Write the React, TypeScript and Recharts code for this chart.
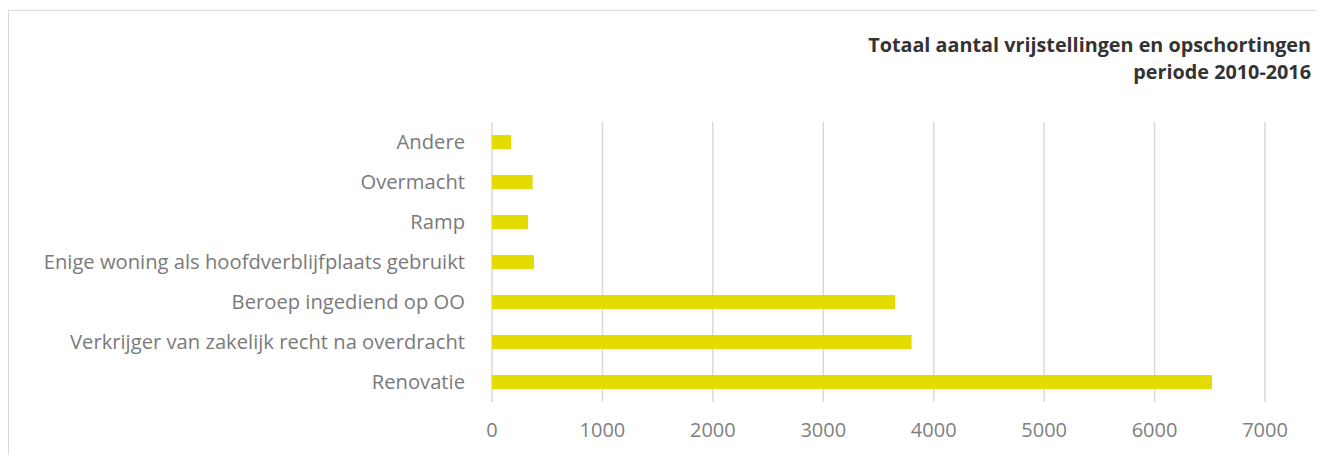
import React from 'react';
import { BarChart, Bar, XAxis, YAxis, CartesianGrid } from 'recharts';

const categories = [
  'Andere',
  'Overmacht',
  'Ramp',
  'Enige woning als hoofdverblijfplaats gebruikt',
  'Beroep ingediend op OO',
  'Verkrijger van zakelijk recht na overdracht',
  'Renovatie',
];
const totals = [172, 368, 326, 380, 3650, 3800, 6520];
const xTicks = [0, 1000, 2000, 3000, 4000, 5000, 6000, 7000];

const titleLines = ['Totaal aantal vrijstellingen en opschortingen', 'periode 2010-2016'];

const data = categories.map((name, i) => ({ name, value: totals[i] }));

const FONT = '"Open Sans", Lato, sans-serif';

function App() {
  return (
    <div
      style={{
        position: 'relative',
        marginTop: 2,
        width: 1309,
        height: 460,
        border: '1px solid #d9d9d9',
        borderBottom: 'none',
        background: '#fff',
        fontFamily: FONT,
      }}
    >
      {/* titel rechtsboven */}
      <div
        style={{
          position: 'absolute',
          top: 20,
          right: 7,
          textAlign: 'right',
          fontWeight: 700,
          fontSize: 19.8,
          lineHeight: '27px',
          color: '#333333',
        }}
      >
        {titleLines.map((l) => (
          <div key={l}>{l}</div>
        ))}
      </div>

      <BarChart
        width={1309}
        height={440}
        data={data}
        layout="vertical"
        margin={{ top: 111, right: 53, bottom: 19, left: 0 }}
        barSize={14}
      >
        <CartesianGrid horizontal={false} stroke="#d9d9d9" strokeWidth={1.5} />
        <XAxis
          type="number"
          domain={[0, 7000]}
          ticks={xTicks}
          axisLine={false}
          tickLine={false}
          tickMargin={15}
          height={30}
          tick={{ fill: '#7f7f7f', fontSize: 20, fontFamily: FONT }}
        />
        <YAxis
          type="category"
          dataKey="name"
          width={483}
          axisLine={false}
          tickLine={false}
          tickMargin={21}
          interval={0}
          tick={{ fill: '#7a7a7a', fontSize: 20.2, fontFamily: FONT }}
        />
        <Bar dataKey="value" fill="#e4db00" isAnimationActive={false} />
      </BarChart>
    </div>
  );
}

export default App;
